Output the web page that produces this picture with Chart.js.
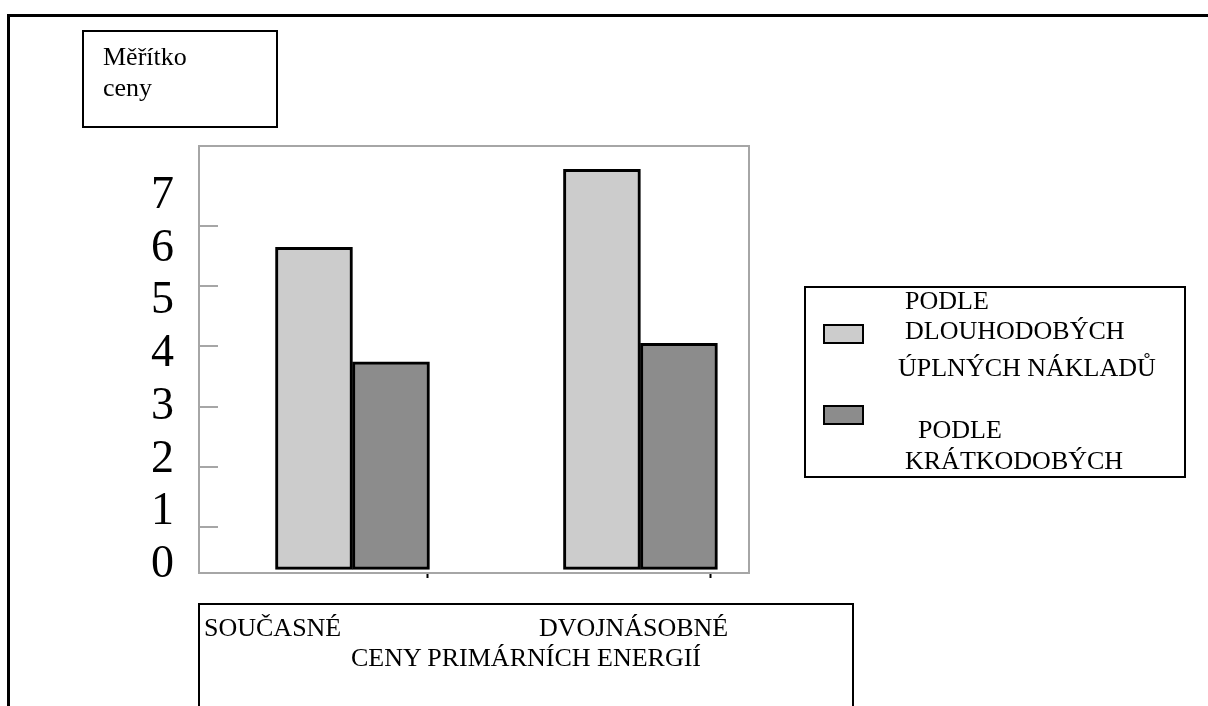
<!DOCTYPE html>
<html lang="cs">
<head>
<meta charset="utf-8">
<title>Měřítko ceny</title>
<script src="https://cdn.jsdelivr.net/npm/chart.js@4.4.1/dist/chart.umd.min.js"></script>
<style>
  html, body { margin: 0; padding: 0; background: #fff; }
  body { width: 1208px; height: 706px; position: relative; overflow: hidden;
         font-family: "Liberation Serif", "Times New Roman", serif; color: #000; }
  #chart { position: absolute; left: 0; top: 0; }
  .frame { position: absolute; left: 7px; top: 14px; width: 1300px; height: 800px;
           border-top: 3px solid #000; border-left: 3px solid #000; }
  .box { position: absolute; border: 2px solid #000; background: transparent; }
  .txt { position: absolute; white-space: pre; line-height: 1; font-size: 26px; }
  .swatch { position: absolute; width: 37px; height: 16px; border: 2px solid #000; }
</style>
</head>
<body>
<div class="frame"></div>
<canvas id="chart" width="1208" height="706"></canvas>
<div id="overlay"></div>
<script>
// Price scale for two primary-energy price levels, by long-run and short-run cost.
const categories = ['SOUČASNÉ', 'DVOJNÁSOBNÉ'];
const longRunCost = [6.12, 7.6];
const shortRunCost = [3.95, 4.3];
const seriesNames = [
  ['PODLE', 'DLOUHODOBÝCH', 'ÚPLNÝCH NÁKLADŮ'],
  ['PODLE', 'KRÁTKODOBÝCH']
];
const valueTicks = [0, 1, 2, 3, 4, 5, 6, 7];
const guideTicks = [1, 2, 3, 4, 5, 6];
const categoryTicks = [0.26, 1.245];
const scaleTitle = ['Měřítko', 'ceny'];
const axisTitle = 'CENY PRIMÁRNÍCH ENERGIÍ';

const SERIF = '"Liberation Serif", "Times New Roman", serif';
const FRAME = '#a6a6a6';
const FILLS = ['#cccccc', '#8c8c8c'];

const toPoints = values => categories.map((c, i) => ({ x: i, y: values[i] }));

new Chart(document.getElementById('chart'), {
  type: 'bar',
  data: {
    datasets: [
      { label: seriesNames[0].join(' '), data: toPoints(longRunCost),
        backgroundColor: FILLS[0], borderColor: '#000', borderWidth: 3,
        borderSkipped: false, barThickness: 77 },
      { label: seriesNames[1].join(' '), data: toPoints(shortRunCost),
        backgroundColor: FILLS[1], borderColor: '#000', borderWidth: 3,
        borderSkipped: false, barThickness: 77 }
    ]
  },
  options: {
    responsive: false,
    animation: false,
    devicePixelRatio: 1,
    layout: { padding: { left: 0, top: 146, right: 459, bottom: 0 } },
    plugins: { legend: { display: false }, tooltip: { enabled: false } },
    scales: {
      x: {
        type: 'linear', position: 'bottom', min: -0.533, max: 1.377, offset: false,
        afterBuildTicks: s => { s.ticks = categoryTicks.map(v => ({ value: v })); },
        afterFit: s => { s.height = 133; },
        border: { display: true, color: FRAME, width: 2 },
        grid: { offset: false, drawOnChartArea: false, drawTicks: true, tickLength: 5,
                tickColor: '#000', tickWidth: 2 },
        ticks: { display: false }
      },
      xTop: {
        axis: 'x', type: 'linear', position: 'top', min: 0, max: 1,
        afterFit: s => { s.height = 0; },
        border: { display: true, color: FRAME, width: 2 },
        grid: { drawOnChartArea: false, drawTicks: false },
        ticks: { display: false }
      },
      y: {
        type: 'linear', position: 'left', min: -0.06, max: 8.045,
        afterBuildTicks: s => { s.ticks = valueTicks.map(v => ({ value: v })); },
        afterFit: s => { s.width = 199; },
        border: { display: true, color: FRAME, width: 2 },
        grid: { drawOnChartArea: false, drawTicks: false },
        ticks: { color: '#000', font: { family: SERIF, size: 46 }, padding: 25,
                 labelOffset: -5, callback: v => String(v) }
      },
      yGuide: {
        axis: 'y', type: 'linear', position: 'right', min: 0.23, max: 7.335,
        afterBuildTicks: s => { s.ticks = guideTicks.map(v => ({ value: v })); },
        afterFit: s => { s.width = 0; },
        border: { display: true, color: FRAME, width: 2, dash: [19, 3000] },
        grid: { drawOnChartArea: true, drawTicks: false, color: FRAME, lineWidth: 2 },
        ticks: { display: false }
      }
    }
  }
});

// Boxed captions around the plot: scale title, legend and the category/axis caption.
const overlay = document.getElementById('overlay');
function add(cls, css, text) {
  const el = document.createElement('div');
  el.className = cls;
  Object.assign(el.style, css);
  if (text !== undefined) el.textContent = text;
  overlay.appendChild(el);
  return el;
}

add('box', { left: '82px', top: '30px', width: '192px', height: '94px' });
add('txt', { left: '103px', top: '44px' }, scaleTitle[0]);
add('txt', { left: '103px', top: '75px' }, scaleTitle[1]);

add('box', { left: '804px', top: '286px', width: '378px', height: '188px' });
add('swatch', { left: '823px', top: '324px', background: FILLS[0] });
add('swatch', { left: '823px', top: '405px', background: FILLS[1] });
const legendLines = [
  [{ x: 905, y: 288 }, { x: 905, y: 318 }, { x: 898, y: 355 }],
  [{ x: 918, y: 417 }, { x: 905, y: 448 }]
];
seriesNames.forEach((lines, s) => lines.forEach((line, i) => {
  const p = legendLines[s][i];
  add('txt', { left: p.x + 'px', top: p.y + 'px' }, line);
}));

add('box', { left: '198px', top: '603px', width: '652px', height: '200px' });
add('txt', { left: '204px', top: '615px' }, categories[0]);
add('txt', { left: '539px', top: '615px' }, categories[1]);
add('txt', { left: '200px', top: '645px', width: '652px', textAlign: 'center' }, axisTitle);
</script>
</body>
</html>
